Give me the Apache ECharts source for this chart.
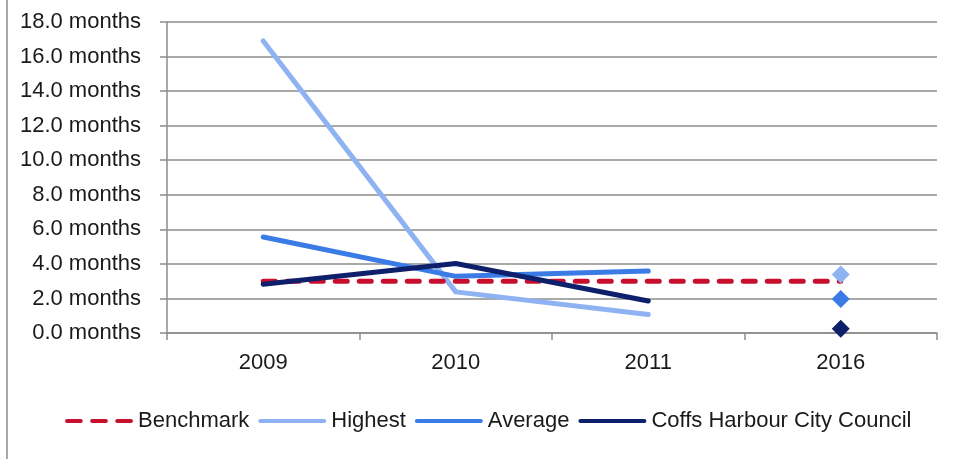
<!DOCTYPE html>
<html>
<head>
<meta charset="utf-8">
<style>
  html, body { margin: 0; padding: 0; background: #fff; }
  #chart { width: 957px; height: 459px; }
</style>
<script src="https://cdn.jsdelivr.net/npm/echarts@6/dist/echarts.min.js"></script>
</head>
<body>
<div id="chart"></div>
<script>
// Years on the category axis
const years = ['2009', '2010', '2011', '2016'];

// Trend values (months) for 2009-2011; 2016 is shown as a separate point
const benchmark = [3.0, 3.0, 3.0, 3.0];
const highest = [16.9, 2.38, 1.07, null];
const average = [5.56, 3.28, 3.59, null];
const coffs = [2.82, 4.02, 1.85, null];

// 2016 values, drawn as single markers
const highest2016 = [null, null, null, 3.38];
const average2016 = [null, null, null, 1.97];
const coffs2016 = [null, null, null, 0.25];

// Value axis range
const yMin = 0, yMax = 18, yStep = 2;

const FONT = "'Liberation Sans Narrow', 'Arial Narrow', 'Liberation Sans', Arial, sans-serif";
const C_BENCH = '#c8102e';
const C_HIGH = '#8fb3f2';
const C_AVG = '#3b7be6';
const C_COFFS = '#0e1f6b';
const GRID_GRAY = '#8c8c8c';

// Legend glyphs: three short dashes for the benchmark, a solid bar for the rest
const DASH_ICON = 'path://M2,0H15A2,2 0 0 1 15,4H2A2,2 0 0 1 2,0Z' +
  'M26,0H39A2,2 0 0 1 39,4H26A2,2 0 0 1 26,0Z' +
  'M50,0H63A2,2 0 0 1 63,4H50A2,2 0 0 1 50,0Z';
const BAR_ICON = 'path://M2,0H63A2,2 0 0 1 63,4H2A2,2 0 0 1 2,0Z';

const chart = echarts.init(document.getElementById('chart'), null, { renderer: 'canvas' });

function lineSeries(name, data, color, z, dashed) {
  return {
    name: name,
    type: 'line',
    data: data,
    showSymbol: false,
    symbol: 'none',
    connectNulls: false,
    z: z,
    lineStyle: {
      color: color,
      width: 5,
      type: dashed ? [12, 12] : 'solid',
      cap: 'round',
      join: 'round'
    },
    itemStyle: { color: color },
    emphasis: { disabled: true }
  };
}

function pointSeries(name, data, color, z) {
  return {
    name: name,
    type: 'scatter',
    data: data,
    symbol: 'diamond',
    symbolSize: 18,
    z: z,
    itemStyle: { color: color, opacity: 1 },
    emphasis: { disabled: true }
  };
}

chart.setOption({
  animation: false,
  backgroundColor: '#ffffff',
  textStyle: { fontFamily: FONT },
  grid: { left: 167, top: 22, right: 20, bottom: 126, containLabel: false },
  legend: {
    data: [
      { name: 'Benchmark', icon: DASH_ICON },
      { name: 'Highest', icon: BAR_ICON },
      { name: 'Average', icon: BAR_ICON },
      { name: 'Coffs Harbour City Council', icon: BAR_ICON }
    ],
    left: 60,
    top: 405,
    itemWidth: 68,
    itemHeight: 5,
    itemGap: 9,
    textStyle: { fontFamily: FONT, fontSize: 22, color: '#1a1a1a' },
    selectedMode: false
  },
  xAxis: {
    type: 'category',
    data: years,
    boundaryGap: true,
    axisLine: { show: true, lineStyle: { color: GRID_GRAY, width: 1.5 } },
    axisTick: { show: true, length: 7, lineStyle: { color: GRID_GRAY, width: 1.5 } },
    axisLabel: { fontFamily: FONT, fontSize: 22, color: '#1a1a1a', margin: 19 },
    splitLine: { show: false }
  },
  yAxis: {
    type: 'value',
    min: yMin,
    max: yMax,
    interval: yStep,
    axisLine: { show: true, lineStyle: { color: GRID_GRAY, width: 1.5 } },
    axisTick: { show: true, inside: false, length: 7, lineStyle: { color: GRID_GRAY, width: 1.5 } },
    axisLabel: {
      fontFamily: FONT, fontSize: 22, color: '#1a1a1a', margin: 26,
      formatter: v => v.toFixed(1) + ' months'
    },
    splitLine: { show: true, lineStyle: { color: GRID_GRAY, width: 1.5 } }
  },
  graphic: [{
    type: 'line',
    shape: { x1: 7, y1: 0, x2: 7, y2: 459 },
    style: { stroke: '#8c8c8c', lineWidth: 1.5 },
    silent: true
  }],
  series: [
    lineSeries('Benchmark', benchmark, C_BENCH, 3, true),
    lineSeries('Highest', highest, C_HIGH, 2, false),
    lineSeries('Average', average, C_AVG, 4, false),
    lineSeries('Coffs Harbour City Council', coffs, C_COFFS, 5, false),
    pointSeries('Highest', highest2016, C_HIGH, 6),
    pointSeries('Average', average2016, C_AVG, 6),
    pointSeries('Coffs Harbour City Council', coffs2016, C_COFFS, 6)
  ]
});
</script>
</body>
</html>
